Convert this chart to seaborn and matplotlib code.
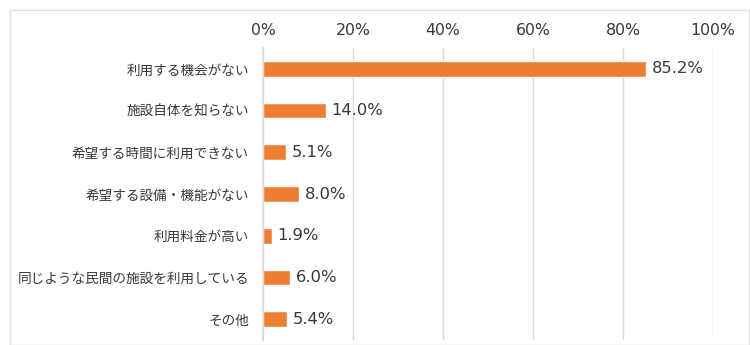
import matplotlib
matplotlib.use("Agg")
import matplotlib.pyplot as plt
import matplotlib.patches as mpatches
import seaborn as sns
import pandas as pd

categories = [
    "利用する機会がない",
    "施設自体を知らない",
    "希望する時間に利用できない",
    "希望する設備・機能がない",
    "利用料金が高い",
    "同じような民間の施設を利用している",
    "その他",
]
values = [85.2, 14.0, 5.1, 8.0, 1.9, 6.0, 5.4]
x_ticks = [0, 20, 40, 60, 80, 100]
x_tick_labels = ["0%", "20%", "40%", "60%", "80%", "100%"]

df = pd.DataFrame({"reason": categories, "pct": values})

sns.set_theme(style="white")
# Latin digits in DejaVu Sans, Japanese falls through to Noto Sans CJK JP
plt.rcParams["font.family"] = ["DejaVu Sans", "Noto Sans CJK JP"]

fig = plt.figure(figsize=(7.5, 3.45), dpi=100)
ax = fig.add_axes([263 / 750, 1 - 340 / 345, 450 / 750, 292 / 345])

bar_color = "#ED7D31"
sns.barplot(data=df, x="pct", y="reason", orient="h", color=bar_color,
            width=0.38, saturation=1, ax=ax)

text_color = "#383838"
ax.set_xlim(0, 100)
ax.set_ylim(6.5, -0.5)
ax.xaxis.tick_top()
ax.set_xticks(x_ticks, x_tick_labels)
ax.tick_params(axis="x", length=0, pad=7, labelsize=11.3, labelcolor=text_color)
ax.tick_params(axis="y", length=0, pad=10, labelsize=9.8, labelcolor=text_color)
ax.set_xlabel("")
ax.set_ylabel("")

ax.grid(axis="x", color="#d9d9d9", linewidth=1)
ax.set_axisbelow(True)
for side in ["top", "right", "bottom"]:
    ax.spines[side].set_visible(False)
ax.spines["left"].set_color("#d9d9d9")

for i, v in enumerate(values):
    ax.text(v + 1.2, i, f"{v:.1f}%", va="center", ha="left",
            fontsize=11.8, color=text_color)

fig.patches.append(mpatches.Rectangle((10 / 750, 0.0), 739 / 750, 1 - 10 / 345,
                                      transform=fig.transFigure, fill=False,
                                      edgecolor="#e0e0e0", linewidth=1))

fig.savefig("out.png", dpi=100)
